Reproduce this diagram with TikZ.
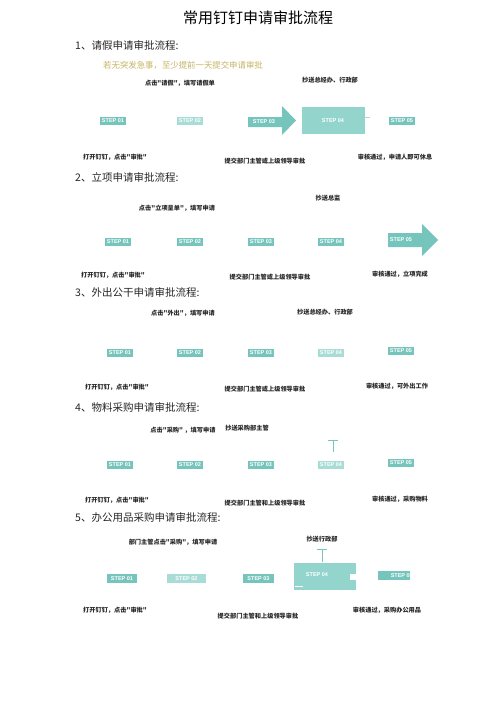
\documentclass[tikz,border=0pt]{standalone}
\usepackage{fontspec}
\setmainfont{Liberation Sans}
\setsansfont{Liberation Sans}
\newfontfamily\cjk{Noto Sans CJK SC}
\definecolor{tealm}{HTML}{76C5BD}
\definecolor{teall}{HTML}{A8DCD6}
\definecolor{tealr}{HTML}{93D5CD}
\definecolor{noteol}{HTML}{C4B563}
\begin{document}
\begin{tikzpicture}[x=1pt,y=1pt,
  stepbox/.style={fill=tealm,text=white,font=\sffamily\bfseries\fontsize{5.5}{5.5}\selectfont,inner sep=0pt,minimum width=26pt,minimum height=8pt},
  steplight/.style={stepbox,fill=teall},
  steptxt/.style={text=white,font=\sffamily\bfseries\fontsize{5.5}{5.5}\selectfont,inner sep=0pt},
  lbl/.style={font=\cjk\bfseries\fontsize{6.2}{7}\selectfont,inner sep=0pt,text=black!85},
  head/.style={font=\cjk\fontsize{10.5}{12}\selectfont,anchor=west,inner sep=0pt,text=black!85},
  tee/.style={draw=tealm,line width=1pt}]
\useasboundingbox (0,0) rectangle (500,-707);
\fill[white] (0,0) rectangle (500,-707);
% title
\node[font=\cjk\fontsize{15}{17}\selectfont,inner sep=0pt] (title) at (258,-18) {常用钉钉申请审批流程};
% ===== section 1
\node[head] (h1) at (75,-45) {1、请假申请审批流程:};
\node[font=\cjk\fontsize{8.4}{10}\selectfont,text=noteol,anchor=west,inner sep=0pt] (note1) at (103,-65) {若无突发急事，至少提前一天提交申请审批};
\node[lbl] (a1) at (180,-83) {点击"请假"，填写请假单};
\node[lbl] (b1) at (330,-80) {抄送总经办、行政部};
\node[stepbox] (s11) at (113,-121) {STEP 01};
\node[steplight] (s12) at (190,-121) {STEP 02};
\fill[tealm] (248,-117) -- (282,-117) -- (282,-106) -- (296,-120.5) -- (282,-135) -- (282,-127) -- (248,-127) -- cycle;
\node[steptxt] (s13) at (264,-122) {STEP 03};
\fill[tealr] (302,-107) rectangle (365,-134);
\draw[teall,line width=0.8pt] (365,-117) -- (370,-117);
\node[steptxt] (s14) at (333,-121) {STEP 04};
\node[stepbox] (s15) at (402,-120.5) {STEP 05};
\node[lbl] (c1) at (115,-157) {打开钉钉，点击"审批"};
\node[lbl] (d1) at (265,-161) {提交部门主管或上级领导审批};
\node[lbl] (e1) at (395,-157) {审核通过，申请人即可休息};
% ===== section 2
\node[head] (h2) at (75,-177) {2、立项申请审批流程:};
\node[lbl] (a2) at (177,-208) {点击"立项呈单"，填写申请};
\node[lbl] (b2) at (328,-198) {抄送总监};
\node[stepbox] (s21) at (118,-242) {STEP 01};
\node[stepbox] (s22) at (190,-242) {STEP 02};
\node[stepbox] (s23) at (261,-242) {STEP 03};
\node[stepbox] (s24) at (331,-242) {STEP 04};
\fill[tealm] (388,-233) -- (422,-233) -- (422,-224) -- (438,-240) -- (422,-256) -- (422,-247) -- (388,-247) -- cycle;
\node[steptxt] (s25) at (401,-240) {STEP 05};
\node[lbl] (c2) at (113,-275) {打开钉钉，点击"审批"};
\node[lbl] (d2) at (270,-277) {提交部门主管或上级领导审批};
\node[lbl] (e2) at (400,-274) {审核通过，立项完成};
% ===== section 3
\node[head] (h3) at (75,-292) {3、外出公干申请审批流程:};
\node[lbl] (a3) at (183,-313) {点击"外出"，填写申请};
\node[lbl] (b3) at (325,-312) {抄送总经办、行政部};
\node[stepbox] (s31) at (120,-353) {STEP 01};
\node[stepbox] (s32) at (190,-353) {STEP 02};
\node[stepbox] (s33) at (261,-353) {STEP 03};
\node[steplight] (s34) at (331,-353) {STEP 04};
\node[stepbox] (s35) at (401,-351) {STEP 05};
\node[lbl] (c3) at (117,-387) {打开钉钉，点击"审批"};
\node[lbl] (d3) at (265,-389) {提交部门主管或上级领导审批};
\node[lbl] (e3) at (397,-386) {审核通过，可外出工作};
% ===== section 4
\node[head] (h4) at (75,-407) {4、物料采购申请审批流程:};
\node[lbl] (a4) at (183,-430) {点击"采购" ，填写申请};
\node[lbl] (b4) at (247,-428) {抄送采购部主管};
\draw[tee] (328,-440) -- (338,-440) (333,-440) -- (333,-452);
\node[stepbox] (s41) at (120,-465) {STEP 01};
\node[stepbox] (s42) at (190,-465) {STEP 02};
\node[stepbox] (s43) at (261,-465) {STEP 03};
\node[steplight] (s44) at (331,-465) {STEP 04};
\node[stepbox] (s45) at (401,-463) {STEP 05};
\node[lbl] (c4) at (117,-500) {打开钉钉，点击"审批"};
\node[lbl] (d4) at (265,-503) {提交部门主管和上级领导审批};
\node[lbl] (e4) at (400,-499) {审核通过，采购物料};
% ===== section 5
\node[head] (h5) at (75,-517) {5、办公用品采购申请审批流程:};
\node[lbl] (a5) at (173,-542) {部门主管点击"采购"，填写申请};
\node[lbl] (b5) at (322,-539) {抄送行政部};
\draw[tee] (317,-549) -- (327,-549) (322,-549) -- (322,-562);
\node[stepbox,minimum width=30pt,minimum height=9pt] (s51) at (122,-578.5) {STEP 01};
\node[steplight,minimum width=39pt,minimum height=9pt] (s52) at (186.5,-578.5) {STEP 02};
\node[stepbox,minimum width=31pt,minimum height=9pt] (s53) at (258.5,-578.5) {STEP 03};
\fill[tealr] (294,-563) rectangle (356,-590);
\fill[white] (350,-574) rectangle (357,-580);
\draw[white,line width=0.8pt] (295,-586) -- (303,-586);
\node[steptxt] (s54) at (317,-575) {STEP 04};
\fill[tealm] (378,-571) rectangle (410,-580);
\node[steptxt,anchor=east] (s55) at (413,-575.5) {STEP 05};
\node[lbl] (c5) at (115,-610) {打开钉钉，点击"审批"};
\node[lbl] (d5) at (258,-616) {提交部门主管和上级领导审批};
\node[lbl] (e5) at (387,-610) {审核通过，采购办公用品};
\end{tikzpicture}
\end{document}
